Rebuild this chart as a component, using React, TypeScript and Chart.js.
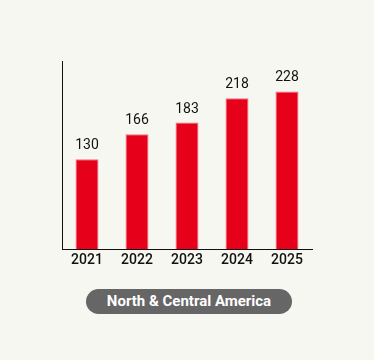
import React, { useEffect, useRef } from "react";
import { Chart, registerables } from "chart.js";

Chart.register(...registerables);

const categories = ["2021", "2022", "2023", "2024", "2025"];
const values = [130, 166, 183, 218, 228];
const regionLabel = "North & Central America";

const FONT = "Roboto, 'Noto Sans', sans-serif";

const valueLabelPlugin = {
  id: "valueLabels",
  afterDatasetsDraw(chart: any) {
    const { ctx } = chart;
    const meta = chart.getDatasetMeta(0);
    ctx.save();
    ctx.font = `400 14px ${FONT}`;
    ctx.fillStyle = "#111111";
    ctx.textAlign = "center";
    ctx.textBaseline = "alphabetic";
    meta.data.forEach((bar: any, i: number) => {
      ctx.fillText(String(values[i]), bar.x, bar.y - 10);
    });
    ctx.restore();
  },
};

export default function App() {
  const ref = useRef<HTMLCanvasElement | null>(null);

  useEffect(() => {
    if (!ref.current) return;
    const chart = new Chart(ref.current, {
      type: "bar",
      data: {
        labels: categories,
        datasets: [
          {
            data: values,
            backgroundColor: "#e60019",
            borderColor: "#f2707c",
            borderWidth: 1,
            barPercentage: 0.46,
            categoryPercentage: 1,
          },
        ],
      },
      options: {
        animation: false,
        responsive: false,
        maintainAspectRatio: false,
        layout: { padding: { left: 62, right: 62, top: 61, bottom: 0 } },
        plugins: { legend: { display: false }, tooltip: { enabled: false } },
        scales: {
          x: {
            grid: { display: false, drawTicks: false },
            border: { display: true, color: "#111111", width: 1 },
            ticks: {
              padding: 3,
              color: "#111111",
              font: { family: FONT, size: 14, weight: "500" },
            },
            afterFit(scale: any) {
              scale.height = 31;
            },
          },
          y: {
            min: 0,
            max: 272,
            grid: { display: false, drawTicks: false },
            border: { display: true, color: "#111111", width: 1 },
            ticks: { display: false },
            afterFit(scale: any) {
              scale.width = 0;
            },
          },
        },
      },
      plugins: [valueLabelPlugin],
    });
    return () => chart.destroy();
  }, []);

  return (
    <div
      style={{
        position: "fixed",
        left: 0,
        top: 0,
        width: 374,
        height: 360,
        background: "#f5f7f0",
        overflow: "hidden",
      }}
    >
      <canvas
        ref={ref}
        width={374}
        height={280}
        style={{ position: "absolute", left: 0, top: 0, width: 374, height: 280 }}
      />
      <div
        style={{
          position: "absolute",
          left: 86,
          top: 289,
          width: 206,
          height: 25,
          borderRadius: 13,
          background: "#666666",
          color: "#ffffff",
          fontFamily: FONT,
          fontWeight: 700,
          fontSize: 15,
          lineHeight: "25px",
          textAlign: "center",
        }}
      >
        {regionLabel}
      </div>
    </div>
  );
}
